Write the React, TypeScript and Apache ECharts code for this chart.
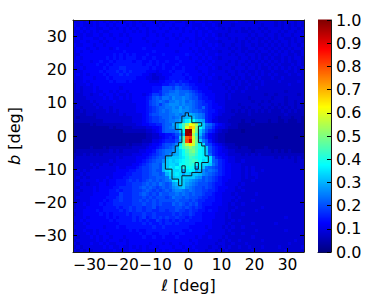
import React, { useEffect, useRef } from "react";
import * as echarts from "echarts";

// Each character is one 1x1 deg cell: value = index in SCALE * 0.02
const SCALE = "0123456789abcdefghijklmnopqrstuvwxyzABCDEFGHIJKLMNOPQRSTUVWXYZ";
const rows = [
"5565656565 6565656656 5666565656 6556565665 5655555556 5545545555 5454555454",
"6565556566 5656665656 6566656566 5666565556 5565455545 5555555455 5454545454",
"5656566556 6565656565 6656665665 6565665655 6556545455 5454554545 5554545545",
"5565656565 5666656656 5656566656 6665656565 5655555454 5445455454 5545455454",
"6556556656 6566565666 6656656566 5656666565 6565454555 5554545545 5454554555",
"5656665565 6656666566 6566666656 6566566556 5556555454 5545454454 5455445454",
"5566566656 5666566566 6656656666 6665656565 6555455554 5454554545 4545545454",
"6556665665 6666665666 6666566656 6656666565 5656545545 5455454454 5454545545",
"5666566566 6567666666 6766666666 6666656656 5565555454 5445545545 4545454554",
"5656656666 6666676666 6666766666 6566665655 6555455545 5454454554 5454545445",
"5566666666 6676767676 6676666766 6666766565 6556555454 5545545445 4545544545",
"5656666666 7676767776 6766766666 6766656656 5655455555 4554545454 5445454554",
"5566656676 6767777767 7667676676 6676666565 6565555454 5545454545 4545454454",
"6556666766 7677777777 7677676766 6766666656 5655554554 5454545454 5454445454",
"5565666667 6777887777 7776766766 7667666566 6565455545 5545545445 4545454545",
"5556666676 7778787877 7766656667 6777666656 6555554554 5454454544 5444544544",
"5656566667 6777878777 7665455666 7776766665 6565555454 5545454545 4544454454",
"5556665666 7677777776 6655445567 7777676656 5655455545 4544545444 5445444444",
"5556566666 6767776766 6665556677 8787766656 5555554454 5454454544 4454444454",
"4555656666 6666666666 6666666778 8989877666 5655545454 5445444544 4444454444",
"4545556566 6666566666 6666777aaa 9ba9987766 6555554545 4454454444 4444444444",
"4545556556 6565665666 6666778aab bcbbba9876 6655555454 4544444444 4444344444",
"4445545565 6656556566 6567998abc ccbbcba987 6665554544 4444444434 4344444434",
"4444555556 5655656566 6678abaccb dccdcbaa87 7665554544 4443444444 3444344444",
"4444454555 5565555566 6679abcbac cdcdbcba98 7765554444 4444344343 4444344344",
"3444445455 5555555556 6679ab9bcd ddcdccba98 8766554444 3444443444 3434344343",
"3434444545 5455555556 66789abbcc dcecdcba9b 8766654444 4343444343 4343434343",
"3343444444 5454555556 66789abcbc ddeddcbba9 8776554434 3434343434 3334343433",
"3333443444 4444545555 5679aabbbc cdcdefedcb 8766544443 3334333333 3333433333",
"3233333444 4444444455 567899abbc bcdefgfdcb 8765444433 3333333333 3323332332",
"3333333334 4444444455 567899aabc cdegikjgfe 8755444333 3233233332 3322322232",
"2222232333 3333344445 5667788abb efimqvurjg cb97654433 2222322222 2222222222",
"2222222222 2323333344 4455667abc dfimuzxpjg ba86554333 2222222222 2222222222",
"2222222222 2222233333 3344567abb bcfjNOuogd a875433222 2122222222 2222222222",
"2222222222 2222222222 2233446677 8acgNMrlfb 8654332222 2222222222 2222222222",
"2222222222 2222222222 2233445678 79gmDFtnda 8654332222 2222222222 2122222222",
"2222222222 2222222222 2333556788 8aemEKtogc a754332222 2222222222 2222222222",
"2222222222 2222223233 34456679aa bdinswtnjh a976543332 2222222222 2222222222",
"2222232223 2333333344 44566789ab cfjmoqomki ga87654333 2332222232 2222222222",
"2333333333 3434344444 556679abcc dfhjmopmji ga87655443 3333233333 2323232222",
"3334343434 4444444455 566789abcd efhjlnnlji gb87665444 4343434333 3333333333",
"3444444444 4445455556 66789abbfg gghikmlkji ihb8766554 4444444444 4343434343",
"4444444444 4545555556 6789abbdgh ghijklmljh ihba876554 4544444444 4444444344",
"4444454545 5455555566 789abbafgh hgjjklkjih hgca876655 5444444444 4444444444",
"4444445455 5556556667 899abbafgi hjikjkjeig cba9876655 5454544444 4444444444",
"4545455555 5556666778 899abaafhi hhieijiegd bcba876655 5454544544 4444444444",
"4454555555 5566667788 899abbabfh hihehgggfd cba9876655 5454554444 4444444444",
"4545455555 6566677888 899aabbbcg ghhhgggeda ba98766655 5454454444 4444444444",
"4455555656 5667778989 89abababcd hihgfedcba ba98766555 5444544444 4444444444",
"4545455566 5667778899 9ababacbab efhgedcbaa a987765555 4544444444 4444444444",
"4455556566 6677888899 ababa9abab defgdcbaa9 a987666554 5444444444 4444444444",
"4545556566 6778788899 9aba9a9aba cddcbcbaa9 9887665554 4544444444 4444444444",
"4455556666 6777988899 aba9a9baab bcbcbabaa9 8876655545 4444454444 4444444444",
"4555566666 7778988899 9a9a9aaa9a cbbabaaa98 8776655554 5444444444 4444444444",
"4455566667 6788988899 a9a9a9aaaa abaaa9a988 7776655545 4444544444 4444444444",
"4556566676 7788888899 9a99a9a999 baba9a9a87 7766655454 4544444444 4444444444",
"4555666667 7778788989 9899a89999 9aa9a98987 6666555445 4444444544 4444444444",
"5556666767 7777878989 9899889989 9a99898877 6766555454 4444454444 4444444444",
"4556666676 7677778788 8988988888 9898898776 6665554544 4544444444 4444444444",
"5556566666 7676777787 8978989898 8988787776 6665554544 4444444444 4444544444",
"5565666666 6767777787 8787798787 8787877776 6655554454 5444444444 4444444444",
"4556566666 6666777777 7878778788 7877777666 6655554544 4444544444 4544444444",
"5555666665 6667667777 7777877877 7777766666 5655545454 4544444444 4444444444",
"4556556566 6666666767 6677777777 7776676666 6555554544 4444454444 4444544444",
"5555656566 5666666666 7677667776 7677666666 5555554454 4544444444 4444444444",
"5455565656 6566656666 6766766766 6766666565 5655545444 4444544444 4444444444",
"4555555656 5666565666 6666666666 6666656655 5555454544 5444444544 4444444544",
"5455565565 6556665666 6665666565 6656665655 5554554454 4454444444 4444454444",
"4545555556 5655655656 5656656666 5665656555 5455454544 5445444544 4454444445",
"5454545555 5565555665 5655565656 6556555655 4554545444 4444544444 4444544444",
];

const axisTicks = [-30, -20, -10, 0, 10, 20, 30];
const barTicks = [0, 0.1, 0.2, 0.3, 0.4, 0.5, 0.6, 0.7, 0.8, 0.9, 1];

const outerContour = [
  [-1,7],[0,7],[0,6],[1,6],[1,4],[4,4],[4,3],[3,3],[3,-2],[4,-2],[4,-3],[5,-3],[5,-6],[6,-6],[6,-8],[4,-8],
  [4,-11],[1,-11],[1,-12],[-2,-12],[-2,-15],[-3,-15],[-3,-13],[-5,-13],[-5,-10],[-7,-10],[-7,-6],[-5,-6],
  [-5,-5],[-4,-5],[-4,-3],[-3,-3],[-3,-2],[-2,-2],[-2,2],[-4,2],[-4,4],[-2,4],[-2,6],[-1,6],[-1,7],
];
const holeLeft = [[-2,-9],[-1,-9],[-1,-11],[-2,-11],[-2,-9]];
const holeRight = [[2,-8],[3,-8],[3,-10],[2,-10],[2,-8]];

const clip = (v: number) => Math.max(0, Math.min(1, v));
const jet = (x: number) => {
  const r = clip(1.5 - Math.abs(4 * x - 3));
  const g = clip(1.5 - Math.abs(4 * x - 2));
  const b = clip(1.5 - Math.abs(4 * x - 1));
  return `rgb(${Math.round(r * 255)},${Math.round(g * 255)},${Math.round(b * 255)})`;
};

const cells: number[][] = [];
rows.forEach((row, r) => {
  row.replace(/ /g, "").split("").forEach((ch, c) => {
    cells.push([c - 35, 34 - r, SCALE.indexOf(ch) * 0.02]);
  });
});
const barSteps: number[][] = [];
for (let i = 0; i < 256; i++) barSteps.push([i / 256, (i + 1) / 256]);

const FONT = "DejaVu Sans";
const INK = "#000";
const FRAME = "#1a1a1a";
const FS = 16;
const fmt = (v: number) => (v < 0 ? "\u2212" + Math.abs(v) : String(v));

const frameAxis = (position: string, extra: any = {}) => ({
  type: "value",
  position,
  min: -35,
  max: 35,
  z: 10,
  splitLine: { show: false },
  axisLine: { show: true, onZero: false, lineStyle: { color: FRAME, width: 1 } },
  axisTick: { show: true, inside: true, length: 4, customValues: axisTicks, lineStyle: { color: "#000", width: 1 } },
  axisLabel: { show: false },
  ...extra,
});
const tickLabel = {
  show: true,
  customValues: axisTicks,
  formatter: fmt,
  showMinLabel: true,
  showMaxLabel: true,
  hideOverlap: false,
  fontFamily: FONT,
  fontSize: FS,
  color: INK,
};

export default function App() {
  const ref = useRef<HTMLDivElement>(null);
  useEffect(() => {
    const chart = echarts.init(ref.current!, undefined, { renderer: "svg" });
    const contourSeries = [outerContour, holeLeft, holeRight].map((d) => ({
      type: "line",
      xAxisIndex: 0,
      yAxisIndex: 0,
      data: d,
      showSymbol: false,
      symbol: "none",
      z: 5,
      lineStyle: { color: "#101828", width: 1 },
    }));
    chart.setOption({
      animation: false,
      backgroundColor: "#fff",
      grid: [
        { left: 73, top: 20, width: 231, height: 232, outerBoundsMode: "none" },
        { left: 318, top: 20, width: 13, height: 232, outerBoundsMode: "none" },
      ],
      xAxis: [
        frameAxis("bottom", {
          gridIndex: 0,
          axisLabel: { ...tickLabel, fontSize: 15.5, margin: 5 },
          name: "\u2113 [deg]",
          nameLocation: "middle",
          nameGap: 24,
          nameTextStyle: { fontFamily: FONT, fontSize: FS, color: INK },
        }),
        frameAxis("top", { gridIndex: 0 }),
        { type: "value", gridIndex: 1, min: 0, max: 1, show: true, splitLine: { show: false },
          axisLine: { show: true, onZero: false, lineStyle: { color: FRAME } }, axisTick: { show: false }, axisLabel: { show: false } },
      ],
      yAxis: [
        frameAxis("left", {
          gridIndex: 0,
          axisLabel: { ...tickLabel, margin: 6 },
          name: "{i|b} [deg]",
          nameLocation: "middle",
          nameGap: 45,
          nameTextStyle: {
            fontFamily: FONT, fontSize: FS, color: INK,
            rich: { i: { fontFamily: FONT, fontStyle: "italic", fontSize: FS, color: INK } },
          },
        }),
        frameAxis("right", { gridIndex: 0 }),
        {
          type: "value", gridIndex: 1, position: "right", min: 0, max: 1, z: 10,
          splitLine: { show: false },
          axisLine: { show: true, onZero: false, lineStyle: { color: FRAME } },
          axisTick: { show: true, inside: true, length: 4, customValues: barTicks, lineStyle: { color: "#000" } },
          axisLabel: { show: true, customValues: barTicks, formatter: (v: number) => v.toFixed(1),
            showMinLabel: true, showMaxLabel: true,
            margin: 5, fontFamily: FONT, fontSize: FS, color: INK },
        },
      ],
      series: [
        {
          type: "custom",
          xAxisIndex: 0,
          yAxisIndex: 0,
          data: cells,
          encode: { x: 0, y: 1 },
          z: 1,
          silent: true,
          renderItem: (_p: any, api: any) => {
            const a = api.coord([api.value(0), api.value(1) + 1]);
            const b = api.coord([api.value(0) + 1, api.value(1)]);
            const x0 = Math.round(a[0]), y0 = Math.round(a[1]);
            return {
              type: "rect",
              shape: { x: x0, y: y0, width: Math.round(b[0]) - x0, height: Math.round(b[1]) - y0 },
              style: { fill: jet(api.value(2)) },
            };
          },
        },
        ...contourSeries,
        {
          type: "custom",
          xAxisIndex: 2,
          yAxisIndex: 2,
          data: barSteps,
          encode: { y: [0, 1] },
          z: 1,
          silent: true,
          renderItem: (p: any, api: any) => {
            const a = api.coord([0, api.value(1)]);
            const b = api.coord([1, api.value(0)]);
            return {
              type: "rect",
              shape: { x: a[0], y: a[1] - 0.5, width: b[0] - a[0], height: b[1] - a[1] + 1 },
              style: { fill: jet(api.value(0)) },
            };
          },
        },
      ],
    });
    return () => chart.dispose();
  }, []);
  return <div ref={ref} style={{ position: "fixed", left: 0, top: 0, width: 374, height: 296 }} />;
}
